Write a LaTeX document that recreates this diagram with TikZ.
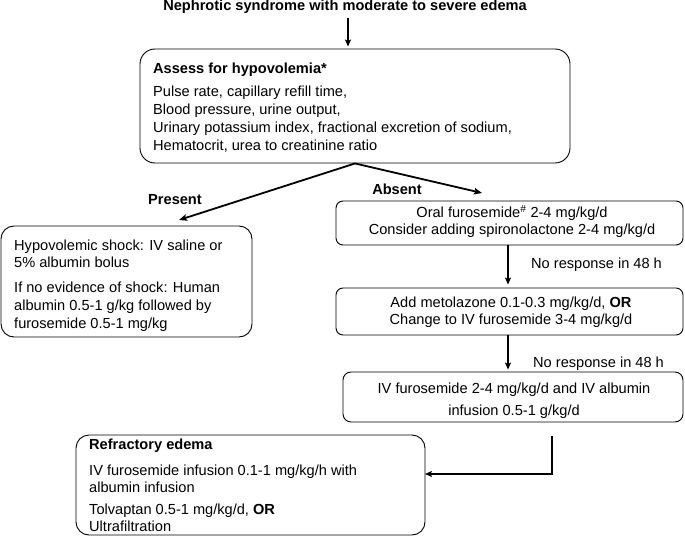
\documentclass[tikz,border=0pt]{standalone}
\usepackage{fontspec}
\setmainfont{Liberation Sans}
\usetikzlibrary{arrows.meta}
\newcommand\fsz{\fontsize{14.6}{18}\selectfont}
\begin{document}
\begin{tikzpicture}[x=1pt,y=-1pt,
  boxnode/.style={draw, line width=0.9pt, inner sep=0pt},
  txt/.style={inner sep=0pt, anchor=base west, font=\fsz},
  txtc/.style={inner sep=0pt, anchor=base, font=\fsz},
  txtb/.style={inner sep=0pt, anchor=base west, font=\fsz\bfseries},
  arr/.style={line width=1.4pt, -{Stealth[length=7pt,width=6pt,inset=1.5pt]}},
  arrb/.style={line width=1.8pt, -{Stealth[length=8pt,width=6.5pt,inset=1.5pt]}}]
\useasboundingbox[fill=white] (0,0) rectangle (685,537);

% title
\node[inner sep=0pt, anchor=base, font=\fsz\bfseries] (title) at (345,10.5) {Nephrotic syndrome with moderate to severe edema};

% boxes
\node[boxnode, rounded corners=15pt, minimum width=430pt, minimum height=114pt] (assess) at (355,106) {};
\node[boxnode, rounded corners=13pt, minimum width=251pt, minimum height=111pt] (pres) at (126.5,281.5) {};
\node[boxnode, rounded corners=7pt, minimum width=347pt, minimum height=44pt] (oral) at (509.5,223) {};
\node[boxnode, rounded corners=7pt, minimum width=347pt, minimum height=47pt] (met) at (509.5,311.5) {};
\node[boxnode, rounded corners=8pt, minimum width=340pt, minimum height=50pt] (iv) at (513,397) {};
\node[boxnode, rounded corners=13pt, minimum width=349pt, minimum height=100pt] (refr) at (250.5,485) {};

% texts in assess
\node[txtb] (a0) at (153,73.5) {Assess for hypovolemia*};
\node[txt] (a1) at (153,97) {Pulse rate, capillary refill time,};
\node[txt] (a2) at (153,115) {Blood pressure, urine output,};
\node[txt] (a3) at (153,133) {Urinary potassium index, fractional excretion of sodium,};
\node[txt] (a4) at (153,151) {Hematocrit, urea to creatinine ratio};

% texts in present box
\node[txt] (p1) at (14,251) {Hypovolemic shock: IV saline or};
\node[txt] (p2) at (14,268) {5\% albumin bolus};
\node[txt] (p3) at (14,292) {If no evidence of shock: Human};
\node[txt] (p4) at (14,310) {albumin 0.5-1 g/kg followed by};
\node[txt] (p5) at (14,328) {furosemide 0.5-1 mg/kg};

% oral box
\node[txtc] (o1) at (512,218) {Oral furosemide\textsuperscript{\#} 2-4 mg/kg/d};
\node[txtc] (o2) at (512,235) {Consider adding spironolactone 2-4 mg/kg/d};

% metolazone box
\node[txtc] (m1) at (511,307) {Add metolazone 0.1-0.3 mg/kg/d, \textbf{OR}};
\node[txtc] (m2) at (511,324) {Change to IV furosemide 3-4 mg/kg/d};

% iv box
\node[txtc] (i1) at (514,393) {IV furosemide 2-4 mg/kg/d and IV albumin};
\node[txtc] (i2) at (514,415) {infusion 0.5-1 g/kg/d};

% refractory box
\node[txtb] (r0) at (89,449) {Refractory edema};
\node[txt] (r1) at (89,475) {IV furosemide infusion 0.1-1 mg/kg/h with};
\node[txt] (r2) at (89,492) {albumin infusion};
\node[txt] (r3) at (89,514) {Tolvaptan 0.5-1 mg/kg/d, \textbf{OR}};
\node[txt] (r4) at (89,531) {Ultrafiltration};

% labels
\node[inner sep=0pt, font=\fsz\bfseries] (lpres) at (175,200) {Present};
\node[inner sep=0pt, font=\fsz\bfseries] (labs) at (397,189) {Absent};
\node[txt] (nr1) at (531,269) {No response in 48 h};
\node[txt] (nr2) at (533,367) {No response in 48 h};

% helper coordinates
\coordinate (c348) at (348,0);
\coordinate (c508) at (508,0);
\coordinate (ptip) at (179,220);
\coordinate (atip) at (482,193);
\coordinate (rstart) at (552,436);
\coordinate (rend) at (425,474);

% connectors
\draw[arr, shorten <=4pt, shorten >=2pt] (title.south -| c348) -- (assess.north -| c348);
\draw[arrb] (assess.south) -- (ptip);
\draw[arrb] (assess.south) -- (atip);
\draw[arr, shorten >=3pt] (oral.south -| c508) -- (met.north -| c508);
\draw[arr, shorten >=2pt] (met.south -| c508) -- (iv.north -| c508);
\draw[arr] (rstart) |- (rend);
\end{tikzpicture}
\end{document}
